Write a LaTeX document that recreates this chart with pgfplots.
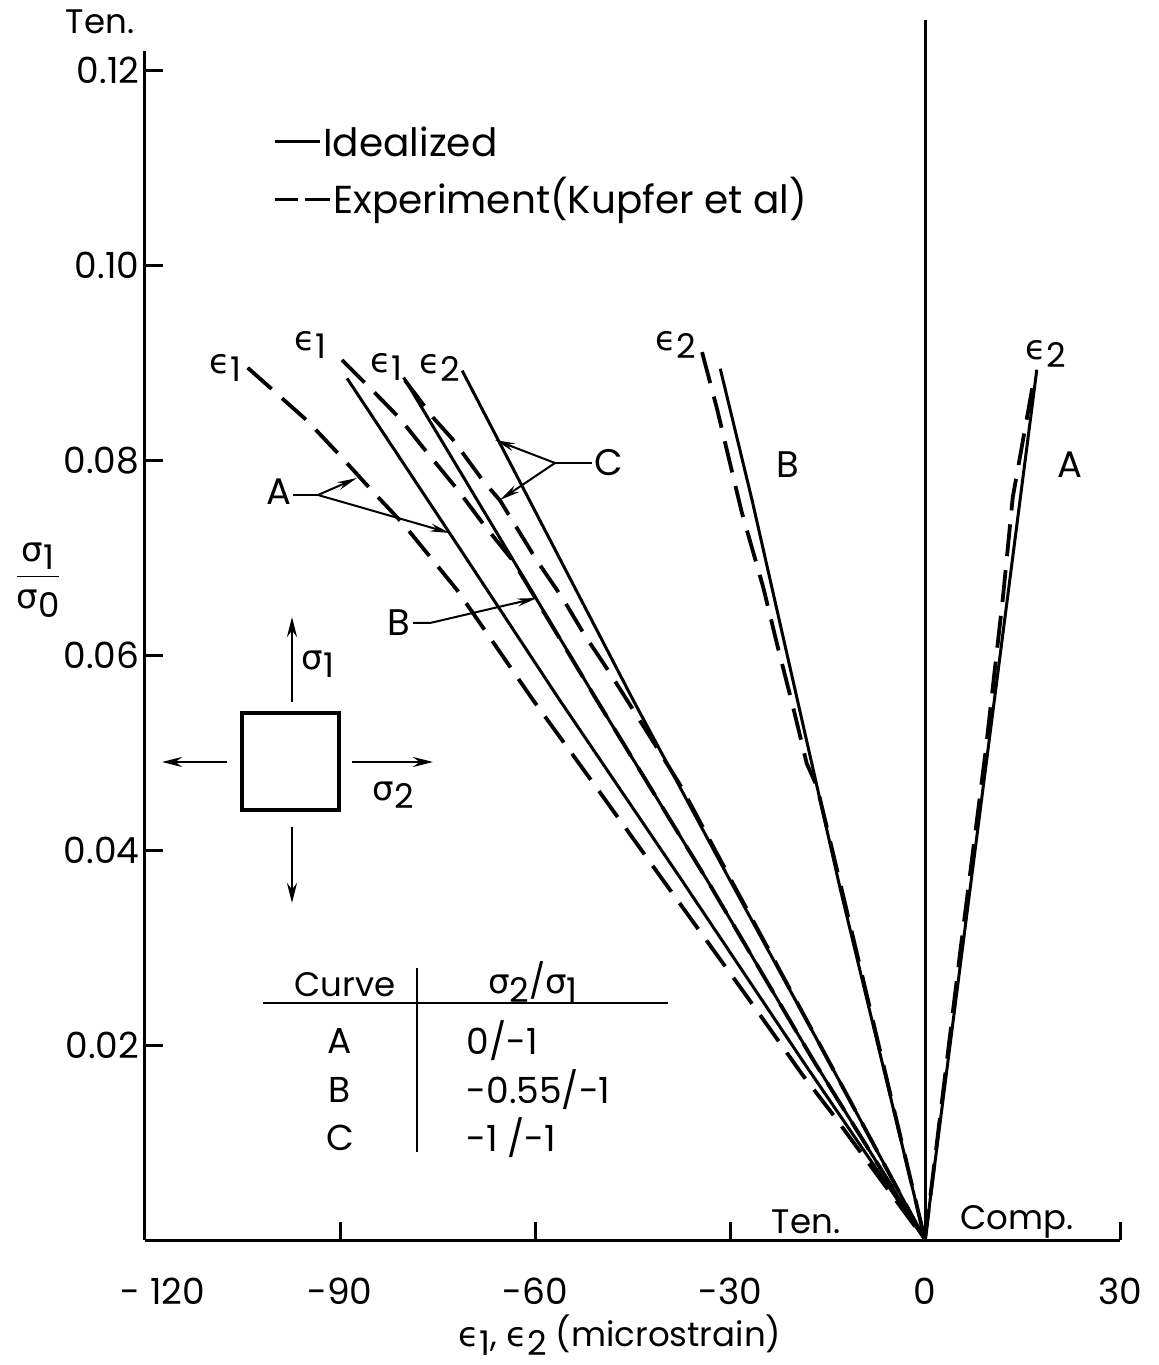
\documentclass[border=0pt]{standalone}
\usepackage{pgfplots}
\pgfplotsset{compat=1.18}
\usepackage{fontspec}
\setmainfont{Poppins}
\newfontfamily\gr{DejaVu Sans}
\usetikzlibrary{arrows.meta}
\newcommand{\eps}[1]{{\gr ϵ}\raisebox{-0.45ex}{#1}}
\newcommand{\sig}[1]{{\gr σ}\raisebox{-0.45ex}{#1}}
\pgfplotsset{
  solidc/.style={black, line width=1.5pt},
  dashc/.style={black, line width=1.9pt, dash pattern=on 16pt off 7pt},
}
\begin{document}
\fontsize{17}{20}\selectfont
\begin{tikzpicture}[font=\fontsize{17}{20}\selectfont]
\begin{axis}[
  at={(0,0)}, anchor=south west, scale only axis,
  width=487.5pt, height=594.5pt,
  xmin=-120, xmax=30, ymin=0, ymax=0.122,
  axis x line=bottom, axis y line=left,
  axis line style={-, line width=1.5pt},
  every tick/.style={black, line width=1.5pt},
  major tick length=9pt, tick align=inside,
  xtick={-120,-90,-60,-30,0,30},
  xticklabels={\makebox[0pt][l]{\hspace*{-12pt}- 120},-90,-60,-30,0,30},
  ytick={0.02,0.04,0.06,0.08,0.10,0.12},
  yticklabels={0.02,0.04,0.06,0.08,0.10,0.12},
  tick label style={font=\fontsize{18}{21}\selectfont},
  xticklabel style={yshift=-13pt},
  yticklabel style={xshift=3pt},
  clip=false,
]
% vertical line at zero
\addplot[black, line width=1.5pt] coordinates {(0,0) (0,0.1252)};
% Curve A, eps1: experiment (dashed) and idealized (solid)
\addplot[dashc] coordinates {(-104.2,0.0895) (-95.1,0.0841) (-90.0,0.0805) (-85.1,0.0769) (-80.3,0.0735) (-72.0,0.0667) (-60.3,0.0554) (-50.3,0.0462) (-40.5,0.0371) (-27.2,0.0248) (-18.8,0.0169) (-14.3,0.0130) (0,0)};
\addplot[solidc] coordinates {(-88.9,0.0884) (-73.1,0.0725) (-56.2,0.0554) (-37.4,0.0369) (-18.9,0.01846) (0,0)};
% Curve B, eps1
\addplot[solidc] coordinates {(-80.2,0.0885) (-59.8,0.0658) (-50.5,0.0554) (-33.5,0.0369) (-17.2,0.01846) (0,0)};
\addplot[dashc] coordinates {(-89.7,0.0903) (-84.6,0.0869) (-80.8,0.0843) (-76.6,0.0808) (-71.8,0.0769) (-68.0,0.0735) (-63.4,0.0697) (-50.5,0.0554) (-33.5,0.0369) (-17.2,0.01846) (0,0)};
% Curve C
\addplot[solidc] coordinates {(-71.2,0.0892) (-44.9,0.0554) (-30.0,0.0369) (-14.9,0.01846) (0,0)};
\addplot[dashc] coordinates {(-80.0,0.0882) (-75.7,0.0844) (-72.6,0.0821) (-68.0,0.0779) (-65.4,0.0759) (-59.7,0.0697) (-55.8,0.0659) (-52.3,0.0620) (-48.5,0.0582) (-41.5,0.0508) (-37.5,0.0465) (-29.8,0.0369) (-14.9,0.01846) (0,0)};
% Curve B, eps2
\addplot[solidc] coordinates {(-31.5,0.0894) (-26.6,0.0759) (-13.1,0.0362) (0,0)};
\addplot[dashc] coordinates {(-34.3,0.0911) (-32.0,0.0853) (-30.0,0.0797) (-28.2,0.0747) (-24.9,0.0670) (-22.6,0.0607) (-20.3,0.0547) (-18.2,0.0489) (-16.6,0.0465) (-12.9,0.0362) (0,0)};
% Curve A, eps2
\addplot[solidc] coordinates {(17.2,0.0893) (0,0)};
\addplot[dashc] coordinates {(16.5,0.0874) (14.6,0.0803) (13.5,0.0762) (12.0,0.066) (9.3,0.05) (5.5,0.03) (0,0)};
\end{axis}
\begin{scope}[x=0.5pt,y=-0.5pt,shift={(-72.5pt,620pt)}]
% legend
\draw[line width=1.5pt] (275,142)--(320,142);
\node[anchor=west,inner sep=0,font=\fontsize{19.5}{22}\selectfont] at (323,142) {Idealized};
\draw[line width=1.5pt] (275,200)--(298,200) (305,200)--(330,200);
\node[anchor=west,inner sep=0,font=\fontsize{19.5}{22}\selectfont] at (333,200) {Experiment(Kupfer et al)};
% axis texts
\node at (100,22) {Ten.};
\node at (806,1222) {Ten.};
\node at (1017,1222) {Comp.};
\node at (620,1335) {\eps{1}, \eps{2} (microstrain)};
\node at (38,580) {$\displaystyle\frac{\mbox{\sig{1}}}{\mbox{\sig{0}}}$};
% curve end labels
\node at (225,368) {\eps{1}};
\node at (310,345) {\eps{1}};
\node at (386,367) {\eps{1}};
\node at (440,368) {\eps{2}};
\node at (676,345) {\eps{2}};
\node at (1046,354) {\eps{2}};
\node[font=\fontsize{18.5}{21}\selectfont] at (788,465) {B};
\node[font=\fontsize{18.5}{21}\selectfont] at (1070,465) {A};
% arrows A
\node[font=\fontsize{18.5}{21}\selectfont] at (279,492) {A};
\draw[line width=1pt] (293,495)--(318,495);
\draw[line width=1pt,-{Stealth[length=10pt,width=4pt]}] (318,495)--(357,478);
\draw[line width=1pt,-{Stealth[length=10pt,width=4pt]}] (318,495)--(450,533);
% arrow B
\node[font=\fontsize{18.5}{21}\selectfont] at (399,623) {B};
\draw[line width=1pt,-{Stealth[length=10pt,width=4pt]}] (413,623)--(430,623)--(537,598);
% arrows C
\node[font=\fontsize{18.5}{21}\selectfont] at (609,463) {C};
\draw[line width=1pt] (592,463)--(555,463);
\draw[line width=1pt,-{Stealth[length=10pt,width=4pt]}] (555,463)--(495,440);
\draw[line width=1pt,-{Stealth[length=10pt,width=4pt]}] (555,463)--(500,500);
% stress block
\draw[line width=1.6pt] (242,713) rectangle (339,810);
\draw[line width=1.2pt,-{Stealth[length=10pt,width=5pt]}] (292,702)--(292,617);
\draw[line width=1.2pt,-{Stealth[length=10pt,width=5pt]}] (227,762)--(162,762);
\draw[line width=1.2pt,-{Stealth[length=10pt,width=5pt]}] (352,762)--(433,762);
\draw[line width=1.2pt,-{Stealth[length=10pt,width=5pt]}] (292,827)--(292,903);
\node at (318,664) {\sig{1}};
\node at (393,795) {\sig{2}};
% table
\node at (345,985) {Curve};
\node at (533,982) {\sig{2}/\sig{1}};
\draw[line width=1.2pt] (263,1003)--(668,1003);
\draw[line width=1.2pt] (417,968)--(417,1152);
\begin{scope}[font=\fontsize{18}{21}\selectfont]
\node at (340,1041) {A};
\node at (340,1090) {B};
\node at (340,1138) {C};
\node[anchor=west] at (455,1041) {0/-1};
\node[anchor=west] at (455,1090) {-0.55/-1};
\node[anchor=west] at (455,1138) {-1 /-1};
\end{scope}
\pgfresetboundingbox
\path[use as bounding box] (0,0) rectangle (1159,1365);
\end{scope}
\end{tikzpicture}
\end{document}
